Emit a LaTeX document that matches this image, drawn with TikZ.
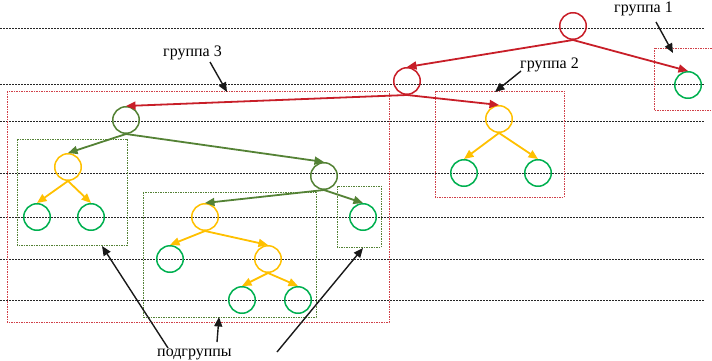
\documentclass[tikz,border=0pt]{standalone}
\usepackage{fontspec}
\setmainfont{Liberation Serif}
\usetikzlibrary{arrows.meta}
\definecolor{cred}{RGB}{200,30,40}
\definecolor{colive}{RGB}{84,130,53}
\definecolor{cyel}{RGB}{255,192,0}
\definecolor{cleaf}{RGB}{0,176,80}
\tikzset{
  nd/.style={circle,draw,line width=1.5pt,minimum size=26.5pt,inner sep=0pt},
  rn/.style={nd,draw=cred},
  on/.style={nd,draw=colive},
  yn/.style={nd,draw=cyel},
  ln/.style={nd,draw=cleaf},
  tedge/.style={line width=1.8pt,-{Triangle[length=9.5pt,width=8pt]}},
  hline/.style={black!85,line width=0.9pt,dash pattern=on 2pt off 1pt},
  rbox/.style={cred!85,line width=0.8pt,dash pattern=on 1.5pt off 1pt},
  gbox/.style={colive,line width=0.8pt,dash pattern=on 1.5pt off 1pt},
  lbl/.style={font=\fontsize{16}{18}\selectfont,inner sep=0pt,anchor=base west},
  larr/.style={black!90,line width=1.4pt,-{Triangle[length=9.5pt,width=8pt]}}
}
\begin{document}
\begin{tikzpicture}[x=1pt,y=-1pt]
\useasboundingbox (0,0) rectangle (712,361);
% horizontal levels
\foreach \yy in {28,84,121,173,217,259,300}
  \draw[hline] (0,\yy) -- (704,\yy);
% boxes
\draw[rbox] (654,48) rectangle (712,110);
\draw[rbox] (435,91) rectangle (564,197);
\draw[rbox] (7,91) rectangle (389,322);
\draw[gbox] (17,139) rectangle (127,245);
\draw[gbox] (143,192) rectangle (316,317);
\draw[gbox] (337,186) rectangle (381,247);
% nodes
\node[rn] (r) at (573,26) {};
\node[rn] (r2) at (407,81) {};
\node[ln] (g1) at (688,85) {};
\node[yn] (y2) at (499,119) {};
\node[ln] (l2a) at (464,173) {};
\node[ln] (l2b) at (538,173) {};
\node[on] (o3) at (126,120) {};
\node[yn] (ya) at (68,167) {};
\node[ln] (la1) at (37,217) {};
\node[ln] (la2) at (91,217) {};
\node[on] (ob) at (324,176) {};
\node[yn] (yb) at (205,217) {};
\node[ln] (lb1) at (170,259) {};
\node[yn] (yc) at (268,259) {};
\node[ln] (lc1) at (242,300) {};
\node[ln] (lc2) at (298,300) {};
\node[ln] (lr) at (363,217) {};
% tree edges
\draw[tedge,cred] (r.south) -- (r2.north);
\draw[tedge,cred] (r.south) -- (g1.north);
\draw[tedge,cred] (r2.south) -- (o3.north);
\draw[tedge,cred] (r2.south) -- (y2.north);
\draw[tedge,cyel] (y2.south) -- (l2a.north);
\draw[tedge,cyel] (y2.south) -- (l2b.north);
\draw[tedge,colive] (o3.south) -- (ya.north);
\draw[tedge,colive] (o3.south) -- (ob.north);
\draw[tedge,cyel] (ya.south) -- (la1.north);
\draw[tedge,cyel] (ya.south) -- (la2.north);
\draw[tedge,colive] (ob.south) -- (yb.north);
\draw[tedge,colive] (ob.south) -- (lr.north);
\draw[tedge,cyel] (yb.south) -- (lb1.north);
\draw[tedge,cyel] (yb.south) -- (yc.north);
\draw[tedge,cyel] (yc.south) -- (lc1.north);
\draw[tedge,cyel] (yc.south) -- (lc2.north);
% labels
\node[lbl] (t1) at (614,13) {группа 1};
\node[lbl] (t2) at (520,68) {группа 2};
\node[lbl] (t3) at (163,57) {группа 3};
\node[lbl] (t4) at (157,356) {подгруппы};
\coordinate (a1s) at (656,22); \coordinate (a1e) at (673,53);
\coordinate (a2s) at (521,71); \coordinate (a2e) at (495,92);
\coordinate (a3s) at (210,62); \coordinate (a3e) at (227,92);
\coordinate (a4s) at (168,348); \coordinate (a4e) at (102,246);
\coordinate (a5s) at (217,342); \coordinate (a5e) at (219,317);
\coordinate (a6s) at (277,352); \coordinate (a6e) at (363,248);
\draw[larr] (a1s) -- (a1e);
\draw[larr] (a2s) -- (a2e);
\draw[larr] (a3s) -- (a3e);
\draw[larr] (a4s) -- (a4e);
\draw[larr] (a5s) -- (a5e);
\draw[larr] (a6s) -- (a6e);
\end{tikzpicture}
\end{document}
